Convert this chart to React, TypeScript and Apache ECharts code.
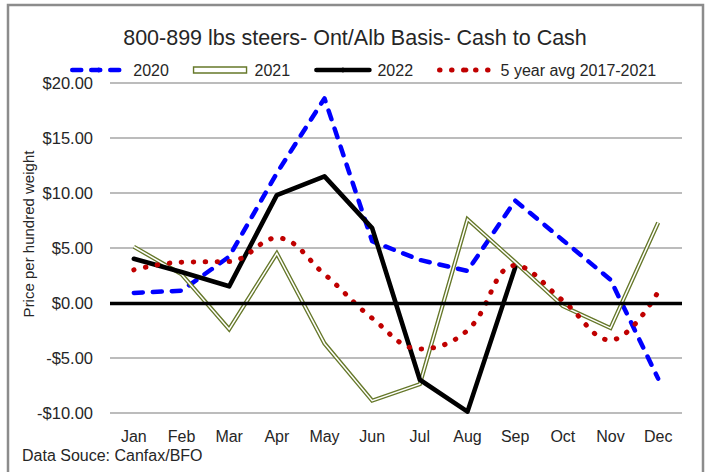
import React, { useEffect, useRef } from "react";
import * as echarts from "echarts";

const months = ["Jan", "Feb", "Mar", "Apr", "May", "Jun", "Jul", "Aug", "Sep", "Oct", "Nov", "Dec"];
const s2020 = [0.9, 1.1, 4.2, 11.8, 18.6, 5.6, 3.9, 2.9, 9.3, 5.7, 2.1, -6.9];
const s2021 = [5.1, 2.6, -2.4, 4.5, -3.7, -8.9, -7.4, 7.6, 3.7, -0.3, -2.3, 7.3];
const s2022 = [4.0, 2.8, 1.5, 9.8, 11.5, 6.8, -7.0, -9.9, 3.2, null, null, null];
const avg5 = [3.0, 3.7, 3.75, 5.9, 2.6, -1.4, -4.2, -2.5, 3.4, 0.2, -3.4, 1.0];
const yTicks = { min: -10, max: 20, interval: 5 };

const FONT = "'Liberation Sans', Arial, sans-serif";
const TXT = "#262626";
const OLIVE = "#66782a";

export default function App() {
  const ref = useRef<HTMLDivElement>(null);
  useEffect(() => {
    if (!ref.current) return;
    const chart = echarts.init(ref.current, null, { renderer: "svg" });
    chart.setOption({
      animation: false,
      backgroundColor: "#fff",
      title: {
        text: "800-899 lbs steers- Ont/Alb Basis- Cash to Cash",
        left: "center",
        top: 27,
        padding: 0,
        textStyle: { fontFamily: FONT, fontSize: 21.5, fontWeight: "normal", color: TXT },
      },
      legend: {
        left: 70,
        top: 62,
        padding: 0,
        itemWidth: 53,
        itemHeight: 6,
        itemGap: 24,
        textStyle: { fontFamily: FONT, fontSize: 16, color: TXT, padding: [0, 0, 0, 3] },
        lineStyle: { width: "inherit" },
        data: [
          { name: "2020" },
          { name: "2021", icon: "rect", itemStyle: { color: "#fff", borderColor: OLIVE, borderWidth: 1.4 } },
          { name: "2022" },
          { name: "5 year avg 2017-2021" },
        ],
      },
      grid: { left: 110, right: 28, top: 83, bottom: 59.3 },
      xAxis: {
        type: "category",
        data: months,
        boundaryGap: true,
        axisLine: { show: false },
        axisTick: { show: false },
        axisLabel: { fontFamily: FONT, fontSize: 16, color: TXT, margin: 16 },
      },
      yAxis: {
        type: "value",
        min: yTicks.min,
        max: yTicks.max,
        interval: yTicks.interval,
        axisLine: { show: false },
        axisTick: { show: false },
        splitLine: { lineStyle: { color: "#a6a6a6", width: 1.5 } },
        axisLabel: {
          fontFamily: FONT,
          fontSize: 16.5,
          color: TXT,
          margin: 17,
          formatter: (v: number) => (v < 0 ? "-$" + Math.abs(v).toFixed(2) : "$" + v.toFixed(2)),
        },
      },
      graphic: [
        {
          type: "rect",
          shape: { x: 8, y: 5, width: 695, height: 480 },
          style: { fill: "none", stroke: "#8c8c8c", lineWidth: 2.5 },
          silent: true,
        },
        {
          type: "text",
          x: 28,
          y: 234,
          rotation: Math.PI / 2,
          style: {
            text: "Price per hundred weight",
            fontFamily: FONT,
            fontSize: 15,
            fill: TXT,
            align: "center",
            verticalAlign: "middle",
          },
        },
        {
          type: "text",
          x: 22,
          y: 455,
          style: {
            text: "Data Souce: Canfax/BFO",
            fontFamily: FONT,
            fontSize: 16,
            fill: TXT,
            align: "left",
            verticalAlign: "middle",
          },
        },
      ],
      series: [
        {
          name: "zero",
          type: "line",
          data: [],
          z: 1,
          markLine: {
            silent: true,
            symbol: "none",
            label: { show: false },
            lineStyle: { color: "#000", width: 3.3, type: "solid" },
            data: [{ yAxis: 0 }],
          },
        },
        {
          name: "2020",
          type: "line",
          data: s2020,
          z: 3,
          symbol: "none",
          lineStyle: { color: "#0000ff", width: 4.5, type: [9, 10], cap: "round", join: "round" },
          itemStyle: { color: "#0000ff" },
        },
        {
          name: "2021",
          type: "line",
          data: s2021,
          z: 3,
          symbol: "none",
          lineStyle: { color: OLIVE, width: 4.2, join: "miter" },
          itemStyle: { color: OLIVE },
        },
        {
          name: "2021-inner",
          type: "line",
          data: s2021,
          z: 3,
          symbol: "none",
          lineStyle: { color: "#ffffff", width: 1.5, join: "miter" },
          itemStyle: { color: "#ffffff" },
        },
        {
          name: "2022",
          type: "line",
          data: s2022,
          z: 3,
          symbol: "none",
          connectNulls: false,
          lineStyle: { color: "#000000", width: 4.6, join: "round", cap: "round" },
          itemStyle: { color: "#000000" },
        },
        {
          name: "5 year avg 2017-2021",
          type: "line",
          data: avg5,
          z: 3,
          symbol: "none",
          smooth: 0.4,
          lineStyle: { color: "#c00000", width: 5, type: [0.5, 11.5], cap: "round" },
          itemStyle: { color: "#c00000" },
        },
      ],
    });
    return () => chart.dispose();
  }, []);
  return (
    <div
      ref={ref}
      style={{ position: "fixed", left: 0, top: 0, width: 710, height: 472, background: "#fff" }}
    />
  );
}
